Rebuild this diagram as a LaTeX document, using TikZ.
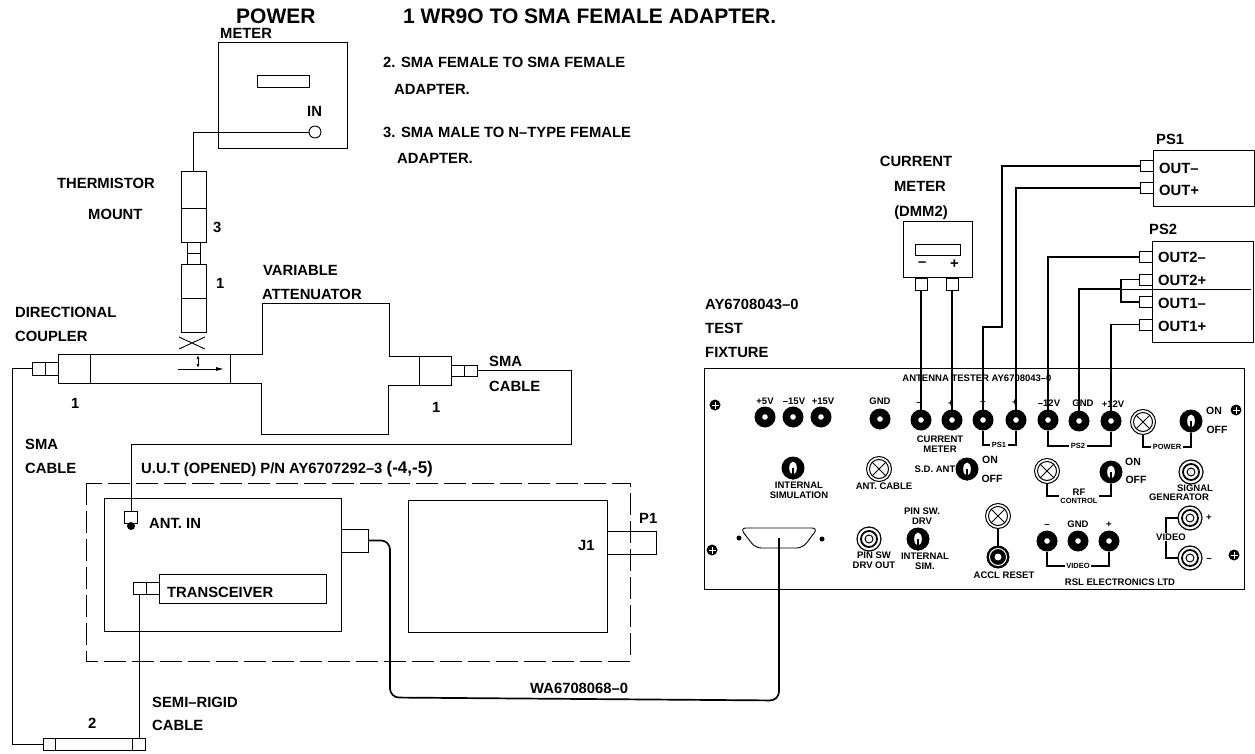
\documentclass[tikz,border=0pt]{standalone}
\usepackage{fontspec}
\setmainfont{Liberation Sans}
\usetikzlibrary{positioning,calc,arrows.meta,shapes.geometric}

\tikzset{
  box/.style={draw, inner sep=0pt, outer sep=0pt, line width=0.9pt},
  wire/.style={line width=0.9pt},
  fatwire/.style={line width=1.7pt},
  lbl/.style={font=\fontsize{14.8}{15}\selectfont\bfseries, inner sep=0pt, anchor=west},
  big/.style={font=\fontsize{21}{22}\selectfont\bfseries, inner sep=0pt, anchor=west},
  tiny/.style={font=\fontsize{9.5}{10}\selectfont\bfseries, inner sep=0pt, align=center},
  swt/.style={font=\fontsize{10.5}{11}\selectfont\bfseries, inner sep=0pt},
  brk/.style={font=\fontsize{7.5}{8}\selectfont\bfseries, inner sep=1.5pt, align=center},
  jack/.style={circle, fill=black, inner sep=0pt, outer sep=0pt, minimum size=21pt,
    path picture={\fill[white] (path picture bounding box.center) circle (2.8);}},
  ringjack/.style={circle, fill=black, inner sep=0pt, outer sep=0pt, minimum size=23pt,
    path picture={\draw[white, line width=1pt] (path picture bounding box.center) circle (8.5);
      \fill[white] (path picture bounding box.center) circle (3.5);}},
  lamp/.style={circle, draw, line width=1pt, inner sep=0pt, outer sep=0pt, minimum size=25pt,
    path picture={\draw[line width=1pt] (path picture bounding box.center) circle (9.5);
      \draw[line width=0.9pt] (path picture bounding box.center) +(-7,-7) -- +(7,7) +(-7,7) -- +(7,-7);}},
  bnc/.style={circle, draw, line width=1.2pt, inner sep=0pt, outer sep=0pt, minimum size=24pt,
    path picture={\draw[line width=1.8pt] (path picture bounding box.center) circle (8);
      \draw[line width=1pt] (path picture bounding box.center) circle (4);}},
  toggle/.style={circle, fill=black, inner sep=0pt, outer sep=0pt, minimum size=23pt,
    path picture={\fill[white] (path picture bounding box.center) ellipse (3.8 and 6.5);
      \draw[line width=2pt] (path picture bounding box.center) -- +(0,12);}},
  screw/.style={circle, fill=black, inner sep=0pt, minimum size=11pt,
    path picture={\draw[white, line width=0.8pt] (path picture bounding box.center) +(-3.5,0) -- +(3.5,0) +(0,-3.5) -- +(0,3.5);}},
  pin/.style={circle, fill=black, inner sep=0pt, minimum size=5pt}
}

\begin{document}
\begin{tikzpicture}[x=1pt,y=-1pt]
\useasboundingbox (0,0) rectangle (1255,754);

% Titles and parts list
\node (powertxt) [big] at (236,16) {POWER};
\node (metertxt) [lbl] at (220,33) {METER};
\node (parta) [big] at (403,16) {1  WR9O TO SMA FEMALE ADAPTER.};
\node (partb) [lbl] at (383,62) {2.  SMA FEMALE TO SMA FEMALE};
\node (partbb) [lbl] at (394,89) {ADAPTER.};
\node (partc) [lbl] at (383,132) {3.  SMA MALE TO N–TYPE FEMALE};
\node (partcc) [lbl] at (397,158) {ADAPTER.};

% Power meter and mount
\node (meter) [box, minimum width=129, minimum height=106] at (282.5,95) {};
\node (mdisp) [box, minimum width=52, minimum height=12] at (283,81) {};
\node (intxt) [lbl] at (307,111) {IN};
\node (inport) [box, circle, minimum size=12] at (315,132) {};
\node (therma) [box, minimum width=25, minimum height=37] at (193.5,189.5) {};
\node (thermb) [box, minimum width=25, minimum height=34, below=0pt of therma] {};
\node (adpta) [box, minimum width=13, minimum height=11, below=0pt of thermb] {};
\node (adptb) [box, minimum width=13, minimum height=11, below=0pt of adpta] {};
\node (wra) [box, minimum width=25, minimum height=34, below=0pt of adptb] {};
\node (wrb) [box, minimum width=25, minimum height=34, below=0pt of wra] {};
\draw[wire] (inport.west) -| (therma.north);
\node (numc) [lbl] at (213,227) {3};
\node (numa) [lbl] at (216,283) {1};
\node (thermtxt) [lbl] at (57,183) {THERMISTOR};
\node (mounttxt) [lbl] at (88,214) {MOUNT};
\draw[wire] (179,337) -- (205,349) (179,349) -- (205,337);

% Coupler and attenuator
\node (cplblk) [box, minimum width=32, minimum height=29] at (74,368.5) {};
\node (cplbody) [box, minimum width=140, minimum height=29, right=0pt of cplblk] {};
\node (cpla) [box, minimum width=13, minimum height=13, left=0pt of cplblk] {};
\node (cplb) [box, minimum width=13, minimum height=13, left=0pt of cpla] {};
\node (attblk) [box, minimum width=32, minimum height=29] at (435,370.5) {};
\node (atta) [box, minimum width=13, minimum height=11, right=0pt of attblk] {};
\node (attb) [box, minimum width=13, minimum height=11, right=0pt of atta] {};
\draw[wire] (cplbody.north east) -- ++(32,0) -- ++(0,-51) -- ++(127,0) |- (attblk.north west);
\draw[wire] (cplbody.south east) -- ++(31,0) -- ++(0,51) -- ++(127,0) |- (attblk.south west);
\draw[wire,-{Latex[length=8pt,width=4pt]}] (178,369) -- (224,369);
\draw[wire,{Latex[length=4pt,width=3pt]}-{Latex[length=4pt,width=3pt]}] (198,355) -- (198,368);
\node (varitxt) [lbl] at (263,270) {VARIABLE};
\node (atttxt) [lbl] at (262,294) {ATTENUATOR};
\node (dirtxt) [lbl] at (15,312) {DIRECTIONAL};
\node (coutxt) [lbl] at (15,336) {COUPLER};
\node (numd) [lbl] at (71,403) {1};
\node (nume) [lbl] at (432,407) {1};
\node (smaatxt) [lbl] at (489,361) {SMA};
\node (cabatxt) [lbl] at (489,386) {CABLE};
\node (smabtxt) [lbl] at (25,444) {SMA};
\node (cabbtxt) [lbl] at (25,468) {CABLE};

% Unit under test
\draw[wire, dash pattern=on 22pt off 6pt] (86,483) rectangle (630,661);
\node (uuttxt) [lbl] at (141,469) {U.U.T (OPENED) P/N AY6707292–3 {\fontsize{17}{17}\selectfont (-4,-5)}};
\node (antbox) [box, minimum width=237, minimum height=133] at (222.5,564.5) {};
\node (jbox) [box, minimum width=199, minimum height=132] at (507.5,566) {};
\node (antout) [box, minimum width=27, minimum height=23] at (354.5,540.5) {};
\node (pone) [box, minimum width=49, minimum height=23] at (631.5,542.5) {};
\node (antcon) [box, minimum width=13, minimum height=12] at (131,517) {};
\node (antdot) [pin, minimum size=8pt] at (131,526) {};
\node (anttxt) [lbl] at (149,523) {ANT. IN};
\node (trans) [box, minimum width=167, minimum height=29] at (242.5,588.5) {};
\node (transtxt) [lbl] at (167,592) {TRANSCEIVER};
\node (tcona) [box, minimum width=13, minimum height=12, left=0pt of trans] {};
\node (tconb) [box, minimum width=13, minimum height=12, left=0pt of tcona] {};
\node (jone) [lbl] at (578,545) {J1};
\node (ponetxt) [lbl] at (639,518) {P1};

% Rigid cable
\node (rigl) [box, minimum width=12, minimum height=12] at (49,744) {};
\node (rigm) [box, minimum width=77, minimum height=12, right=0pt of rigl] {};
\node (rigr) [box, minimum width=13, minimum height=12, right=0pt of rigm] {};
\node (semitxt) [lbl] at (152,702) {SEMI–RIGID};
\node (cabctxt) [lbl] at (152,725) {CABLE};
\node (numb) [lbl] at (88,723) {2};
\draw[wire] (cplb.west) -- ++(-20,0) |- (rigl.west);
\draw[wire] (tconb.south) -- (tconb.south |- rigr.north);
\draw[wire] (attb.east) -- ++(94,0) -- ++(0,74) -| (antcon.north);

% Panel
\node (panel) [box, line width=1pt, minimum width=540, minimum height=221] at (974,478.5) {};
\node (fixa) [lbl] at (705,304) {AY6708043–0};
\node (fixb) [lbl] at (705,328) {TEST};
\node (fixc) [lbl] at (705,352) {FIXTURE};
\node (anttitle) [tiny] at (977,378) {ANTENNA TESTER AY6708043–0};
\node (scra) [screw] at (715,405) {};
\node (scrb) [screw] at (1236,410) {};
\node (scrc) [screw] at (712,550) {};
\node (scrd) [screw] at (1234,555) {};

% Top row of jacks
\node (jpfive) [jack] at (765,417) {};
\node (jmfift) [jack] at (793,417) {};
\node (jpfift) [jack] at (821,417) {};
\node (jgnda) [jack] at (880,419) {};
\node (jcmn) [jack] at (921,420) {};
\node (jcmp) [jack] at (952,420) {};
\node (jpsn) [jack] at (983,420) {};
\node (jpsp) [jack] at (1016,420) {};
\node (jtwn) [jack] at (1048,420) {};
\node (jgndb) [jack] at (1079,421) {};
\node (jtwp) [jack] at (1111,421) {};
\node (tpfive) [tiny] at (765,401) {+5V};
\node (tmfift) [tiny] at (794,401) {–15V};
\node (tpfift) [tiny] at (823,401) {+15V};
\node (tgnda) [tiny] at (880,401) {GND};
\node (tcmn) [tiny] at (919,404) {–};
\node (tcmp) [tiny] at (951,404) {+};
\node (tpsn) [tiny] at (983,403) {–};
\node (tpsp) [tiny] at (1015,403) {+};
\node (ttwn) [tiny] at (1049,403) {–12V};
\node (tgndb) [tiny] at (1083,403) {GND};
\node (ttwp) [tiny] at (1113,404) {+12V};
\node (tcm) [tiny] at (940,444) {CURRENT\\METER};
\node (tpsa) [brk] at (999,445) {PS1};
\node (tpsb) [brk] at (1078,446) {PS2};
\draw[fatwire] (jpsn.south) |- (tpsa.west);
\draw[fatwire] (jpsp.south) |- (tpsa.east);
\draw[fatwire] (jtwn.south) |- (tpsb.west);
\draw[fatwire] (jtwp.south) |- (tpsb.east);

% Power switch
\node (lpower) [lamp] at (1143,422) {};
\node (swpower) [toggle] at (1191,421) {};
\node (tpower) [brk] at (1167,447) {POWER};
\node (tona) [swt] at (1214,411) {ON};
\node (toffa) [swt] at (1217,430) {OFF};
\draw[fatwire] (lpower.south) |- (tpower.west);
\draw[fatwire] (swpower.south) |- (tpower.east);

% Middle row
\node (swint) [toggle] at (793,468) {};
\node (tint) [tiny] at (799,490) {INTERNAL\\SIMULATION};
\node (lant) [lamp] at (879,469) {};
\node (tant) [tiny] at (884,486) {ANT. CABLE};
\node (tsd) [tiny] at (935,469) {S.D. ANT};
\node (swsd) [toggle] at (967,469) {};
\node (tonb) [swt] at (990,460) {ON};
\node (toffb) [swt] at (992,479) {OFF};
\node (lrf) [lamp] at (1047,471) {};
\node (swrf) [toggle] at (1111,472) {};
\node (tonc) [swt] at (1133,462) {ON};
\node (toffc) [swt] at (1136,480) {OFF};
\node (trf) [brk] at (1079,496) {{\fontsize{9.5}{10}\selectfont RF}\\CONTROL};
\draw[fatwire] (lrf.south) |- (trf.west);
\draw[fatwire] (swrf.south) |- (trf.east);
\node (bncsig) [bnc] at (1191,472) {};
\node (tsiga) [tiny] at (1195,488) {SIGNAL};
\node (tsigb) [tiny] at (1179,497) {GENERATOR};

% Bottom row
\node (dsub) [box, trapezium, trapezium stretches=true, inner sep=2pt, shape border rotate=180, trapezium angle=72, rounded corners=6pt, minimum width=78, minimum height=20] at (779,538) {};
\node (pinl) [pin] at (739,538) {};
\node (pinr) [pin] at (822,539) {};
\draw[fatwire, rounded corners=9pt] (antout.east) -- ++(22,0) -- ++(0,157) -- ++(389,3) -- (dsub.center);
\node (wacable) [lbl] at (530,688) {WA6708068–0};
\node (bncpin) [bnc] at (869,539) {};
\node (tpina) [tiny] at (874,560) {PIN SW\\DRV OUT};
\node (swpin) [toggle] at (918,539) {};
\node (tpinb) [tiny] at (922,516) {PIN SW.\\DRV};
\node (tpinc) [tiny] at (925,561) {INTERNAL\\SIM.};
\node (laccl) [lamp] at (998,516) {};
\node (jaccl) [ringjack] at (998,557) {};
\draw[fatwire] (laccl.south) -- (jaccl.north);
\node (taccl) [tiny] at (1004,575) {ACCL RESET};
\node (jvidn) [jack] at (1047,541) {};
\node (jvidg) [jack] at (1078,541) {};
\node (jvidp) [jack] at (1109,541) {};
\node (tvidn) [tiny] at (1047,526) {–};
\node (tvidg) [tiny] at (1078,524) {GND};
\node (tvidp) [tiny] at (1109,525) {+};
\node (tvid) [brk] at (1078,566) {VIDEO};
\draw[fatwire] (jvidn.south) |- (tvid.west);
\draw[fatwire] (jvidp.south) |- (tvid.east);
\node (trsl) [tiny] at (1120,582) {RSL ELECTRONICS LTD};
\node (bncvp) [bnc] at (1190,518) {};
\node (bncvn) [bnc] at (1190,558) {};
\node (tvp) [tiny] at (1209,518) {+};
\node (tvn) [tiny] at (1209,560) {–};
\node (tvideo) [tiny] at (1171,537) {VIDEO};
\draw[fatwire] (bncvp.west) -| ([xshift=-5pt]tvideo.north);
\draw[fatwire] (bncvn.west) -| ([xshift=-5pt]tvideo.south);

% Current meter
\node (dmm) [box, minimum width=69, minimum height=56] at (937.5,249) {};
\node (ddisp) [box, minimum width=45, minimum height=11] at (938,249.5) {};
\node (dmin) [lbl] at (918,264) {–};
\node (dplus) [lbl] at (950,264) {+};
\node (dcona) [box, minimum width=12, minimum height=12] at (921,284.5) {};
\node (dconb) [box, minimum width=12, minimum height=12] at (952,284.5) {};
\node (dmmtxta) [lbl, anchor=center] at (916,161) {CURRENT};
\node (dmmtxtb) [lbl, anchor=center] at (920,186) {METER};
\node (dmmtxtc) [lbl, anchor=center] at (921,213) {(DMM2)};
\draw[fatwire] (dcona.south) -- (jcmn.north);
\draw[fatwire] (dconb.south) -- (jcmp.north);

% Power supplies
\node (psa) [box, minimum width=101, minimum height=56] at (1203.5,178) {};
\node (psb) [box, minimum width=101, minimum height=101] at (1202.5,291.5) {};
\node (psatxt) [lbl] at (1156,139) {PS1};
\node (psbtxt) [lbl] at (1149,229) {PS2};
\node (psaa) [box, minimum width=13, minimum height=11, left=0pt of psa.west, yshift=12pt] {};
\node (psab) [box, minimum width=13, minimum height=11, left=0pt of psa.west, yshift=-10pt] {};
\node (psba) [box, minimum width=13, minimum height=11] at (1145.5,257) {};
\node (psbb) [box, minimum width=13, minimum height=11] at (1145.5,279.5) {};
\node (psbc) [box, minimum width=13, minimum height=11] at (1145.5,302) {};
\node (psbd) [box, minimum width=13, minimum height=11] at (1145.5,324.5) {};
\node (outa) [lbl] at (1159,168) {OUT–};
\node (outb) [lbl] at (1159,190) {OUT+};
\node (outc) [lbl] at (1158,257) {OUT2–};
\node (outd) [lbl] at (1158,280) {OUT2+};
\node (oute) [lbl] at (1158,303) {OUT1–};
\node (outf) [lbl] at (1158,326) {OUT1+};
\coordinate (psjoin) at (1121,289);
\draw[fatwire] (psaa.west) -- ++(-138,0) -- ++(0,161) -| (jpsn.north);
\draw[fatwire] (psab.west) -| (jpsp.north);
\draw[fatwire] (psba.west) -| (jtwn.north);
\draw[fatwire] (psbb.west) -| (psjoin);
\draw[fatwire] (psbc.west) -| (psjoin);
\draw[fatwire] (psjoin) -| (jgndb.north);
\draw[fatwire] (psbd.west) -| (jtwp.north);
\draw[wire] (psjoin) -- ++(130,0);

\end{tikzpicture}
\end{document}
